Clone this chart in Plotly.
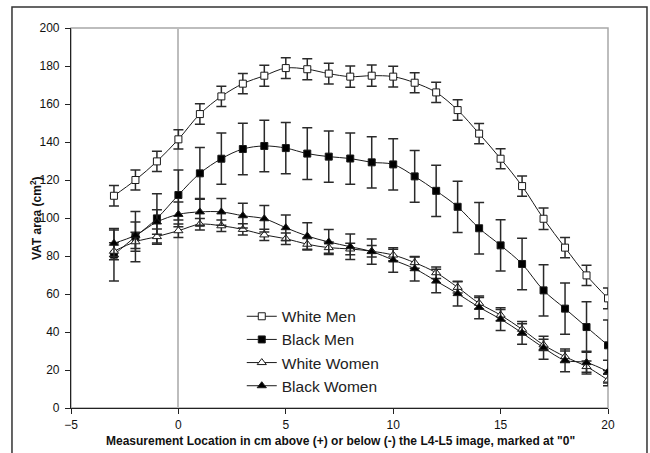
import plotly.graph_objects as go

# Measurement positions (cm relative to L4-L5)
positions = list(range(-3, 21))

# Mean VAT area (cm^2) per group
white_men = [111.7, 120.0, 129.8, 141.4, 154.7, 164.0, 170.7, 174.9, 178.9, 178.3, 176.0, 174.4,
             174.9, 174.4, 171.2, 166.1, 156.8, 144.4, 131.2, 116.8, 99.6, 84.4, 69.8, 57.7]
black_men = [80.7, 90.2, 99.8, 112.1, 123.5, 131.2, 136.3, 137.9, 136.8, 133.9, 132.3, 131.3,
             129.3, 128.2, 121.9, 114.3, 105.9, 94.6, 85.6, 75.8, 61.9, 52.3, 42.6, 33.0]
white_women = [82.5, 87.5, 90.2, 93.3, 96.7, 95.9, 94.0, 91.1, 89.1, 86.2, 84.4, 83.7,
               82.5, 80.5, 76.5, 71.2, 63.5, 55.1, 48.9, 41.4, 33.2, 27.0, 21.8, 14.7]
black_women = [86.7, 90.9, 97.9, 101.9, 103.2, 103.2, 101.2, 99.6, 94.9, 90.5, 87.4, 84.9,
               82.3, 77.9, 73.3, 66.8, 60.2, 53.0, 46.8, 39.5, 31.7, 25.1, 23.9, 19.1]

# Standard errors
white_men_se = [5.4, 5.2, 5.3, 5.1, 5.4, 5.3, 5.3, 5.5, 5.5, 5.5, 5.5, 5.6,
                5.6, 5.5, 5.3, 5.3, 5.4, 5.3, 5.3, 5.3, 5.6, 5.3, 5.3, 5.5]
black_men_se = [13.8, 13.2, 13.0, 13.2, 13.6, 13.5, 13.6, 13.6, 13.5, 13.6, 13.5, 13.5,
                13.5, 13.5, 13.6, 13.5, 13.5, 13.5, 13.5, 13.6, 13.5, 13.5, 13.3, 13.3]
white_women_se = [4.5, 5.0, 4.0, 3.5, 3.0, 3.0, 3.0, 3.0, 3.0, 3.0, 3.0, 3.0,
                  3.0, 3.0, 3.0, 3.0, 3.0, 3.0, 3.0, 3.0, 3.0, 3.0, 3.0, 3.0]
black_women_se = [7.0, 7.0, 6.5, 6.5, 7.0, 7.0, 6.5, 7.0, 6.7, 7.0, 6.6, 6.7,
                  6.6, 6.5, 6.5, 6.2, 6.5, 6.0, 6.0, 6.0, 6.0, 6.0, 6.0, 6.0]

series = [
    ("White Men", white_men, white_men_se, "square", "white", 7),
    ("Black Men", black_men, black_men_se, "square", "black", 7),
    ("White Women", white_women, white_women_se, "triangle-up", "white", 8),
    ("Black Women", black_women, black_women_se, "triangle-up", "black", 8),
]

FONT = "Liberation Sans, Arial, sans-serif"

fig = go.Figure()
for name, vals, err, sym, fill, size in series:
    fig.add_trace(go.Scatter(
        x=positions, y=vals, name=name, mode="lines+markers",
        line=dict(color="#1a1a1a", width=1, shape="spline", smoothing=1),
        marker=dict(symbol=sym, size=size, color=fill, line=dict(color="#1a1a1a", width=1)),
        error_y=dict(type="data", array=err, visible=True, color="#2a2a2a", thickness=1.5, width=5),
    ))

fig.update_layout(
    width=650, height=453,
    margin=dict(l=71, r=42, t=28, b=45),
    paper_bgcolor="white", plot_bgcolor="white",
    showlegend=True,
    legend=dict(x=0.318, y=0.285, xanchor="left", yanchor="top",
                bgcolor="rgba(0,0,0,0)", borderwidth=0,
                font=dict(family=FONT, size=15.5, color="#222")),
    font=dict(family=FONT, size=12, color="#111"),
    xaxis=dict(range=[-5, 20], tickvals=[-5, 0, 5, 10, 15, 20], showgrid=False,
               showline=True, linecolor="#222", linewidth=1.2,
               ticks="outside", ticklen=5, tickcolor="#222", ticklabelstandoff=0,
               zeroline=True, zerolinecolor="#bdbdbd", zerolinewidth=2,
               tickfont=dict(family=FONT, size=12, color="#111")),
    yaxis=dict(range=[0, 200], tickvals=list(range(0, 201, 20)), showgrid=False,
               showline=True, linecolor="#222", linewidth=1.2,
               ticks="outside", ticklen=5, tickcolor="#222", ticklabelstandoff=3,
               zeroline=False,
               tickfont=dict(family=FONT, size=12, color="#111")),
    shapes=[
        # plot-area border
        dict(type="rect", xref="paper", yref="paper", x0=0, x1=1, y0=0, y1=1,
             line=dict(color="#a8a8a8", width=1.5), layer="below"),
        # chart-area frame
        dict(type="rect", xref="paper", yref="paper", x0=-0.1099, x1=1.0726, y0=-0.15, y1=1.0553,
             line=dict(color="#333", width=1.5), layer="below"),
    ],
    annotations=[
        dict(text="<b>Measurement Location in cm above (+) or below (-) the L4-L5 image, marked at \"0\"</b>",
             xref="paper", yref="paper", x=0.501, y=-0.087, xanchor="center", yanchor="middle",
             showarrow=False, font=dict(family=FONT, size=12, color="#111")),
        dict(text="<b>VAT area (cm<sup>2</sup>)</b>", textangle=-90,
             xref="paper", yref="paper", x=-0.0651, y=0.5, xanchor="center", yanchor="middle",
             showarrow=False, font=dict(family=FONT, size=12, color="#111")),
    ],
)

fig.write_html("out.html")
